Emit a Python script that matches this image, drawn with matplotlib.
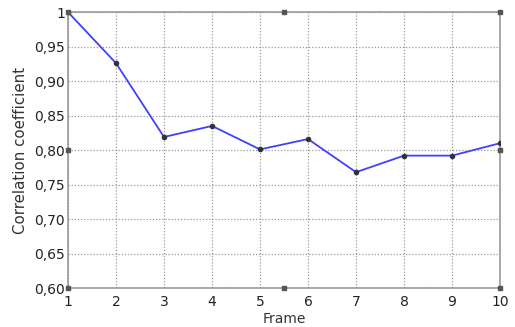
import matplotlib
matplotlib.use("Agg")
import matplotlib.pyplot as plt

frames = [1, 2, 3, 4, 5, 6, 7, 8, 9, 10]
corr = [1.0, 0.926, 0.819, 0.835, 0.801, 0.816, 0.768, 0.792, 0.792, 0.810]
yticks = [0.60, 0.65, 0.70, 0.75, 0.80, 0.85, 0.90, 0.95, 1.0]
ylabels = ["0,60", "0,65", "0,70", "0,75", "0,80", "0,85", "0,90", "0,95", "1"]
handle_x = [1, 5.5, 10, 10, 10, 5.5, 1, 1]
handle_y = [1.0, 1.0, 1.0, 0.80, 0.60, 0.60, 0.60, 0.80]

plt.rcParams['font.family'] = ['DejaVu Sans']
fig = plt.figure(figsize=(5.15, 3.27), dpi=100)
ax = fig.add_axes([0.132, 0.119, 0.839, 0.844])

ax.plot(frames, corr, color="#4040ff", lw=1.3, zorder=3)
ax.plot(frames, corr, ls="none", marker="o", ms=3, color="#333333", zorder=4)
ax.plot(handle_x, handle_y, ls="none", marker="s", ms=3, color="#555555", zorder=5, clip_on=False)

ax.set_xlim(1, 10)
ax.set_ylim(0.60, 1.0)
ax.set_xticks(frames)
ax.set_xticklabels([str(f) for f in frames])
ax.set_yticks(yticks)
ax.set_yticklabels(ylabels)
ax.grid(True, ls=(0, (1, 1.5)), color="#999999", lw=0.9)
for s in ax.spines.values():
    s.set_color("#999999")
    s.set_linewidth(1.2)
ax.tick_params(length=0, labelsize=10, pad=2, colors="#222222")
ax.tick_params(axis="x", pad=5)
ax.set_xlabel("Frame", fontsize=10, labelpad=2, color="#333333")
ax.set_ylabel("Correlation coefficient", fontsize=10.8, labelpad=5, color="#333333")

fig.savefig("out.png", dpi=100)
